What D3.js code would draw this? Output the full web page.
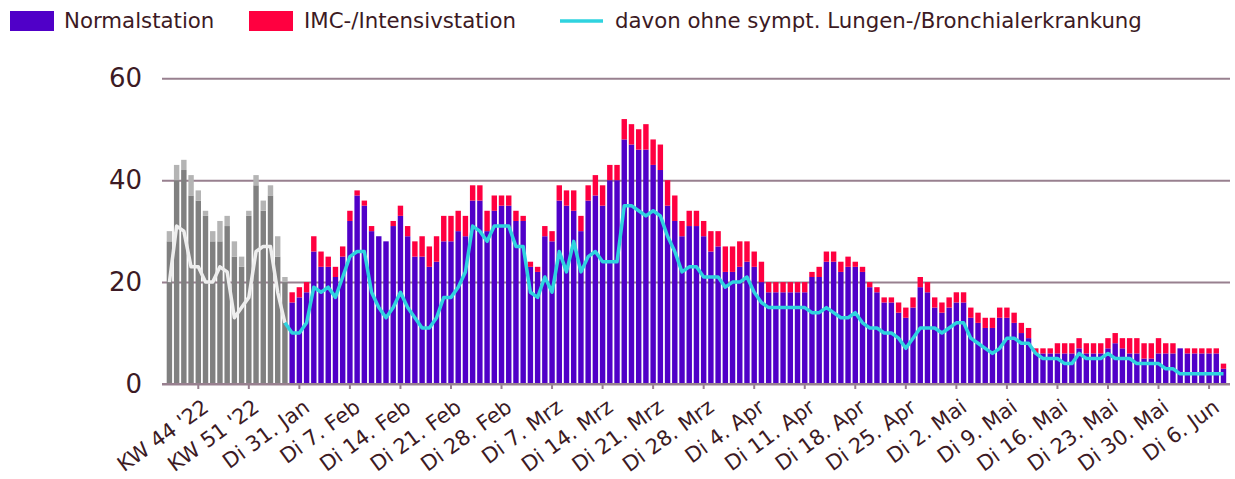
<!DOCTYPE html>
<html>
<head>
    <meta charset="utf-8">
    <title>Hospitalisierung</title>
    <style>
        body {
            margin: 0;
            background: #fff;
            font-family: 'DejaVu Sans', Verdana, sans-serif;
        }
    </style>
    <script src="https://cdnjs.cloudflare.com/ajax/libs/d3/7.8.5/d3.min.js"></script>
</head>
<body>
    <div id="chart"></div>
    <script>
        // weekly bars (grey), then daily bars from Mo 30. Jan
        const weeks = ["KW 40 '22", "KW 41 '22", "KW 42 '22", "KW 43 '22", "KW 44 '22", "KW 45 '22",
            "KW 46 '22", "KW 47 '22", "KW 48 '22", "KW 49 '22", "KW 50 '22", "KW 51 '22", "KW 52 '22",
            "KW 1 '23", "KW 2 '23", "KW 3 '23", "KW 4 '23"];
        const firstDay = new Date(2023, 0, 30);
        const lastDay = new Date(2023, 5, 8);
        const dayNames = ["So", "Mo", "Di", "Mi", "Do", "Fr", "Sa"];
        const monthNames = ["Jan", "Feb", "Mrz", "Apr", "Mai", "Jun", "Jul", "Aug", "Sep", "Okt", "Nov", "Dez"];

        const normal = [28, 40, 42, 37, 36, 33, 28, 28, 31, 25, 23, 33, 39, 34, 37, 25, 20,
            16, 17, 18, 26, 23, 23, 21, 25, 32, 37,
            35, 30, 29, 28, 31, 33, 29, 25, 25, 23,
            24, 28, 28, 30, 29, 36, 36, 30, 34, 35,
            35, 32, 32, 23, 22, 29, 28, 36, 35, 34,
            30, 36, 37, 35, 40, 40, 48, 47, 46, 46,
            43, 42, 35, 32, 29, 31, 31, 29, 26, 27,
            22, 22, 23, 24, 23, 20, 18, 18, 18, 18,
            18, 18, 21, 21, 24, 24, 22, 23, 23, 22,
            19, 18, 16, 16, 14, 13, 15, 19, 18, 15,
            14, 15, 16, 16, 13, 12, 11, 11, 13, 13,
            12, 10, 9, 6, 6, 6, 6, 6, 6, 7,
            6, 6, 6, 7, 8, 7, 6, 6, 5, 5,
            6, 6, 6, 7, 6, 6, 6, 6, 6, 3];

        const imc = [2, 3, 2, 4, 2, 1, 2, 4, 2, 3, 2, 1, 2, 2, 2, 4, 1,
            2, 2, 2, 3, 3, 2, 2, 2, 2, 1,
            1, 1, 0, 0, 1, 2, 2, 3, 4, 4,
            5, 5, 5, 4, 4, 3, 3, 4, 3, 2,
            2, 2, 1, 1, 1, 2, 2, 3, 3, 4,
            3, 3, 4, 4, 3, 3, 4, 4, 4, 5,
            5, 5, 5, 5, 3, 3, 3, 3, 4, 3,
            5, 5, 5, 4, 3, 4, 2, 2, 2, 2,
            2, 2, 1, 2, 2, 2, 2, 2, 1, 1,
            1, 1, 1, 1, 2, 2, 2, 2, 2, 2,
            2, 2, 2, 2, 2, 2, 2, 2, 2, 2,
            2, 2, 2, 1, 1, 1, 2, 2, 2, 2,
            2, 2, 2, 2, 2, 2, 3, 3, 3, 3,
            3, 2, 2, 0, 1, 1, 1, 1, 1, 1];

        // davon ohne sympt. Lungen-/Bronchialerkrankung
        const ohne = [20, 31, 30, 23, 23, 20, 20, 23, 22, 13, 15, 17, 26, 27, 27, 18, 12,
            10, 10, 12, 19, 18, 19, 17, 21, 25, 26,
            26, 18, 15, 13, 15, 18, 15, 13, 11, 11,
            13, 17, 17, 19, 22, 31, 30, 28, 31, 31,
            31, 27, 27, 18, 17, 21, 18, 26, 22, 28,
            22, 25, 26, 24, 24, 24, 35, 35, 34, 33,
            34, 33, 29, 26, 22, 23, 23, 21, 21, 21,
            19, 20, 20, 21, 18, 16, 15, 15, 15, 15,
            15, 15, 14, 14, 15, 14, 13, 13, 14, 12,
            11, 11, 10, 10, 9, 7, 9, 11, 11, 11,
            10, 11, 12, 12, 9, 8, 7, 6, 7, 9,
            9, 8, 8, 6, 5, 5, 5, 4, 4, 6,
            5, 5, 5, 6, 5, 5, 5, 4, 4, 4,
            4, 3, 3, 2, 2, 2, 2, 2, 2, 2];

        const yTicks = [0, 20, 40, 60];

        const days = d3.timeDay.range(firstDay, d3.timeDay.offset(lastDay, 1))
            .map(d => `${dayNames[d.getDay()]} ${d.getDate()}. ${monthNames[d.getMonth()]}`);
        const labels = weeks.concat(days);
        const nWeeks = weeks.length;

        const data = labels.map((label, i) => ({
            i: i,
            label: label,
            normal: normal[i],
            imc: imc[i],
            ohne: ohne[i],
            weekly: i < nWeeks
        }));

        const width = 1235, height = 479;
        const svg = d3.select('#chart')
            .append('svg')
            .attr('width', width)
            .attr('height', height);

        const x = d3.scaleBand()
            .domain(data.map(d => d.i))
            .range([165.8, 1227.1])
            .paddingInner(0.25)
            .paddingOuter(0.125);

        const y = d3.scaleLinear()
            .domain([0, 60])
            .range([384, 78.3]);

        const textColor = '#3c1a24';
        const gridColor = '#98808f';

        // gridlines + y labels
        const yAxis = svg.append('g')
            .attr('transform', 'translate(162,0)')
            .call(d3.axisLeft(y).tickValues(yTicks).tickSize(-(1230 - 162)).tickPadding(20));
        yAxis.select('.domain').remove();
        yAxis.selectAll('line')
            .attr('stroke', gridColor)
            .attr('stroke-width', 2);
        yAxis.selectAll('text')
            .attr('fill', textColor)
            .style('font-size', '26px')
            .style('font-family', "'DejaVu Sans', Verdana, sans-serif");

        // bars
        const bars = svg.append('g');
        bars.selectAll('rect.normal')
            .data(data)
            .join('rect')
            .attr('class', 'normal')
            .attr('x', d => x(d.i))
            .attr('width', x.bandwidth())
            .attr('y', d => y(d.normal))
            .attr('height', d => y(0) - y(d.normal))
            .attr('fill', d => d.weekly ? '#808080' : '#5000c8');

        bars.selectAll('rect.imc')
            .data(data.filter(d => d.imc > 0))
            .join('rect')
            .attr('class', 'imc')
            .attr('x', d => x(d.i))
            .attr('width', x.bandwidth())
            .attr('y', d => y(d.normal + d.imc))
            .attr('height', d => y(d.normal) - y(d.normal + d.imc))
            .attr('fill', d => d.weekly ? '#b4b4b4' : '#ff0040');

        // lines
        const line = d3.line()
            .x(d => x(d.i) + x.bandwidth() / 2)
            .y(d => y(d.ohne));

        svg.append('path')
            .datum(data.slice(0, nWeeks))
            .attr('d', line)
            .attr('fill', 'none')
            .attr('stroke', '#eeeeee')
            .attr('stroke-width', 3.5)
            .attr('stroke-linejoin', 'round');

        svg.append('path')
            .datum(data.slice(nWeeks - 1))
            .attr('d', line)
            .attr('fill', 'none')
            .attr('stroke', '#2fd3df')
            .attr('stroke-width', 3.5)
            .attr('stroke-linejoin', 'round');

        // baseline over the bars
        svg.append('line')
            .attr('x1', 162).attr('x2', 1230)
            .attr('y1', y(0)).attr('y2', y(0))
            .attr('stroke', gridColor)
            .attr('stroke-width', 2);

        // x axis: every 7th category
        const tickIdx = data.filter(d => (d.i - 4) % 7 === 0 && d.i >= 4).map(d => d.i);
        const xAxis = svg.append('g')
            .attr('transform', `translate(0,${y(0)})`)
            .call(d3.axisBottom(x).tickValues(tickIdx).tickFormat(i => labels[i]).tickSize(5).tickSizeOuter(0));
        xAxis.select('.domain').remove();
        xAxis.selectAll('line')
            .attr('stroke', gridColor)
            .attr('stroke-width', 2);
        xAxis.selectAll('text')
            .attr('fill', textColor)
            .style('font-size', '21px')
            .style('font-family', "'DejaVu Sans', Verdana, sans-serif")
            .attr('text-anchor', 'end')
            .attr('y', 0)
            .attr('dy', '0.71em')
            .attr('transform', 'translate(3,14) rotate(-36)');

        // legend
        const legend = svg.append('g')
            .style('font-size', '21.3px')
            .attr('fill', textColor);
        legend.append('rect').attr('x', 10).attr('y', 11).attr('width', 44).attr('height', 20).attr('fill', '#5000c8');
        legend.append('text').attr('x', 64).attr('y', 28).text('Normalstation');
        legend.append('rect').attr('x', 249).attr('y', 11).attr('width', 44).attr('height', 20).attr('fill', '#ff0040');
        legend.append('text').attr('x', 304).attr('y', 28).text('IMC-/Intensivstation');
        legend.append('line').attr('x1', 560).attr('x2', 603).attr('y1', 21).attr('y2', 21)
            .attr('stroke', '#2fd3df').attr('stroke-width', 3.5);
        legend.append('text').attr('x', 615).attr('y', 28).text('davon ohne sympt. Lungen-/Bronchialerkrankung');
    </script>
</body>
</html>
